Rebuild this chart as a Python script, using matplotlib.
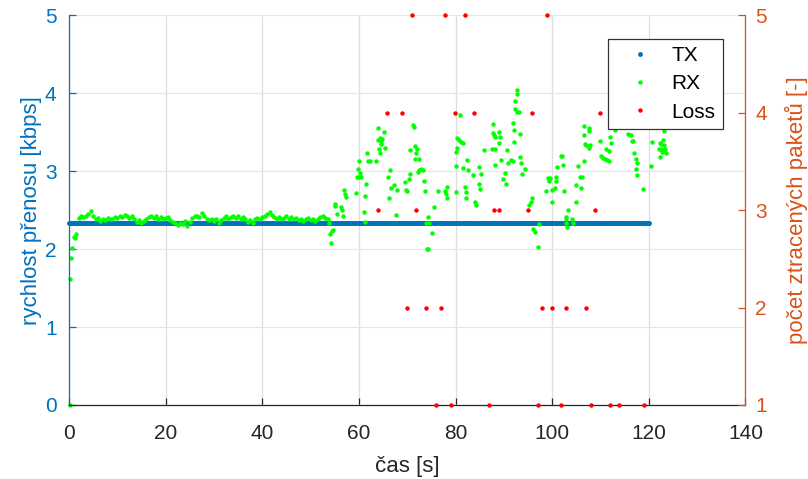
import matplotlib.pyplot as plt
import numpy as np

plt.rcParams['font.family'] = ['Liberation Sans', 'DejaVu Sans']

BLUE = '#0072BD'
ORANGE = '#D95319'
DARK = '#262626'

# TX - konstantni vysilaci rychlost [kbps]
tx_time = np.arange(0, 120.01, 0.25)
tx_rate = 2.34

# RX - nabeh
rx_start_t = [0.17, 0.3, 0.5, 0.7, 1.0, 1.2, 1.55]
rx_start_v = [0.0, 1.62, 1.89, 2.02, 2.15, 2.14, 2.20]

# RX - ustaleny usek 2 .. 53.5 s
rx_flat_t = np.arange(2.0, 53.75, 0.5)
rx_flat_v = [
    2.40, 2.42, 2.41, 2.43, 2.45, 2.49, 2.42, 2.38, 2.40, 2.36,
    2.39, 2.37, 2.40, 2.38, 2.39, 2.41, 2.40, 2.43, 2.41, 2.44,
    2.42, 2.40, 2.43, 2.38, 2.35, 2.37, 2.34, 2.36, 2.38, 2.41,
    2.43, 2.40, 2.42, 2.39, 2.41, 2.38, 2.40, 2.41, 2.37, 2.35,
    2.33, 2.31, 2.34, 2.32, 2.36, 2.30, 2.35, 2.40, 2.42, 2.43,
    2.41, 2.46, 2.42, 2.39, 2.37, 2.39, 2.36, 2.38, 2.34, 2.37,
    2.40, 2.42, 2.39, 2.41, 2.43, 2.40, 2.42, 2.39, 2.41, 2.38,
    2.35, 2.37, 2.34, 2.38, 2.40, 2.39, 2.41, 2.43, 2.45, 2.48,
    2.44, 2.41, 2.39, 2.41, 2.38, 2.40, 2.42, 2.39, 2.41, 2.38,
    2.40, 2.37, 2.39, 2.36, 2.38, 2.40, 2.37, 2.39, 2.36, 2.38,
    2.41, 2.42, 2.40, 2.38,
]

# RX - rozkmitany usek po 54 s
rx_late_t = [
    53.9, 54.1, 54.3, 54.5, 54.6, 55.0, 55.1, 55.4, 56.3, 56.6,
    56.8, 57.0, 57.2, 57.4, 59.5, 59.6, 59.9, 60.0, 60.1, 60.2,
    60.4, 61.0, 61.2, 61.3, 61.5, 61.7, 61.9, 62.2, 63.45, 63.9,
    64.0, 64.2, 64.3, 64.4, 64.5, 64.6, 64.7, 65.2, 65.3, 66.0,
    66.3, 66.4, 66.6, 67.3, 67.6, 67.8, 69.5, 69.7, 70.0, 70.4,
    70.5, 70.6, 71.2, 71.3, 71.6, 71.7, 71.9, 72.1, 72.2, 72.4,
    72.5, 72.9, 73.2, 73.45, 73.6, 73.9, 74.0, 74.2, 74.4, 74.6,
    75.2, 75.6, 76.3, 77.9, 78.1, 78.2, 78.3, 80.0, 80.0, 80.1,
    80.3, 80.4, 80.8, 81.0, 81.2, 81.5, 81.6, 81.9, 82.1, 82.1,
    82.3, 82.5, 83.7, 84.1, 84.2, 84.8, 84.8, 85.0, 85.2, 85.9,
    87.6, 87.8, 87.8, 88.0, 88.1, 88.1, 88.2, 89.0, 89.0, 89.3,
    89.4, 89.9, 90.2, 90.5, 90.75, 90.9, 91.5, 91.8, 91.9, 92.0,
    92.1, 92.3, 92.4, 92.75, 92.8, 92.8, 93.1, 93.3, 93.4, 93.6,
    93.7, 94.3, 95.2, 95.6, 95.9, 96.1, 96.4, 97.1, 97.2, 98.8,
    99.2, 99.4, 99.6, 99.9, 100.0, 100.5, 100.7, 100.8, 101.0, 101.9,
    102.0, 102.3, 102.5, 102.8, 102.8, 102.9, 103.1, 103.2, 104.1, 104.4,
    104.9, 105.0, 105.4, 105.8, 105.9, 106.1, 106.5, 106.5, 106.6, 106.7,
    107.1, 107.4, 107.6, 107.6, 107.7, 107.8, 109.9, 110.1, 110.6, 111.0,
    111.1, 111.4, 111.7, 111.8, 112.0, 112.1, 113.0, 115.7, 116.3, 116.6,
    116.8, 117.0, 117.3, 117.4, 117.6, 117.6, 118.7, 120.5, 120.7, 122.1,
    122.3, 122.4, 122.5, 122.6, 122.8, 122.9, 123.1, 123.1, 123.2, 123.4,
    123.6,
]
rx_late_v = [
    2.34, 2.20, 2.08, 2.23, 2.25, 2.55, 2.58, 2.45, 2.54, 2.50,
    2.43, 2.76, 2.71, 2.67, 2.72, 2.93, 3.03, 2.93, 3.13, 2.98,
    2.93, 2.47, 2.35, 2.68, 2.84, 3.23, 3.13, 3.13, 3.13, 3.55,
    3.40, 3.28, 3.42, 3.23, 3.39, 3.35, 3.41, 3.50, 3.30, 2.93,
    2.66, 3.02, 2.78, 2.82, 2.44, 2.76, 2.86, 2.76, 2.74, 2.90,
    2.96, 3.27, 3.59, 3.57, 3.16, 3.32, 3.23, 3.29, 2.99, 3.16,
    3.02, 3.03, 3.02, 2.87, 2.75, 2.33, 2.00, 2.00, 2.41, 2.34,
    2.21, 2.54, 2.74, 2.75, 2.71, 2.66, 2.80, 2.73, 3.07, 3.25,
    3.30, 3.42, 3.40, 3.72, 3.38, 3.36, 3.04, 2.80, 2.73, 2.66,
    3.14, 3.01, 2.95, 2.60, 2.57, 3.05, 2.84, 2.77, 2.96, 3.27,
    3.29, 3.60, 3.49, 3.46, 3.44, 3.08, 3.29, 3.50, 3.36, 3.44,
    3.14, 2.90, 2.98, 2.84, 3.27, 3.10, 3.14, 3.13, 3.62, 3.53,
    3.37, 3.80, 3.90, 4.04, 3.99, 3.76, 3.76, 3.48, 3.18, 3.10,
    2.97, 3.03, 2.56, 2.60, 2.65, 2.26, 2.22, 2.03, 2.32, 2.75,
    2.91, 2.87, 2.91, 2.76, 2.60, 2.78, 2.87, 2.93, 3.05, 3.19,
    3.20, 3.08, 2.75, 2.41, 2.38, 2.33, 2.29, 2.50, 2.38, 2.33,
    2.61, 2.82, 3.07, 2.93, 2.78, 2.92, 3.13, 3.46, 3.58, 3.35,
    3.33, 3.32, 3.56, 3.30, 3.52, 3.33, 3.39, 3.20, 3.17, 3.15,
    3.29, 3.14, 3.13, 3.26, 3.44, 3.36, 3.53, 3.48, 3.46, 3.39,
    3.39, 3.23, 3.16, 3.03, 3.11, 2.95, 2.77, 3.06, 3.37, 3.28,
    3.36, 3.18, 3.29, 3.35, 3.25, 3.40, 3.52, 3.27, 3.33, 3.28,
    3.23,
]

# Loss - pocet ztracenych paketu
loss_t = [63.9, 65.9, 68.9, 69.9, 71.0, 71.9, 73.9, 75.9, 77.0, 77.9,
          79.0, 79.9, 81.9, 83.9, 87.0, 87.9, 89.0, 95.0, 95.9, 97.0,
          97.9, 99.0, 99.9, 101.9, 102.9, 106.9, 108.0, 108.9, 109.9, 111.9,
          113.9, 118.9]
loss_n = [3, 4, 4, 2, 5, 3, 2, 1, 2, 5,
          1, 4, 5, 4, 1, 3, 3, 3, 4, 1,
          2, 5, 2, 1, 2, 2, 1, 3, 4, 1,
          1, 1]

rx_t = list(rx_start_t) + list(rx_flat_t) + rx_late_t
rx_v = rx_start_v + rx_flat_v + rx_late_v

fig = plt.figure(figsize=(8.08, 4.79), dpi=100)
ax = fig.add_axes([0.0854, 0.1545, 0.8372, 0.8136])
ax2 = ax.twinx()

ms = 3.2
h_tx, = ax.plot(tx_time, np.full_like(tx_time, tx_rate), 'o', color=BLUE,
                ms=3.5, mew=0, clip_on=False, label='TX')
h_rx, = ax.plot(rx_t, rx_v, 'o', color='#00FF00', ms=ms, mew=0,
                clip_on=False, label='RX')
h_loss, = ax2.plot(loss_t, loss_n, 'o', color='#FF0000', ms=ms, mew=0,
                   clip_on=False, label='Loss')

ax.set_xlim(0, 140)
ax.set_ylim(0, 5)
ax2.set_ylim(1, 5)
ax.set_xticks(np.arange(0, 141, 20))
ax.set_yticks(np.arange(0, 6, 1))
ax2.set_yticks(np.arange(1, 6, 1))

ax.grid(True, axis='x', color='#DEDEDE', lw=0.9)
ax.grid(True, axis='y', color='#DCE8F3', lw=0.9)
ax.set_axisbelow(True)

for a in (ax, ax2):
    a.spines['top'].set_visible(False)
ax.spines['right'].set_visible(False)
ax2.spines['left'].set_visible(False)
ax2.spines['bottom'].set_visible(False)
ax.spines['left'].set_color(BLUE)
ax.spines['bottom'].set_color(DARK)
ax2.spines['right'].set_color(ORANGE)
for s in ('left', 'bottom'):
    ax.spines[s].set_linewidth(0.9)
ax2.spines['right'].set_linewidth(0.9)

ax.tick_params(axis='x', direction='in', length=5, width=0.9, colors=DARK,
               labelsize=15, pad=14)
ax.tick_params(axis='y', direction='in', length=5, width=0.9, colors=BLUE,
               labelsize=15, pad=9)
ax2.tick_params(axis='y', direction='in', length=5, width=0.9, colors=ORANGE,
                labelsize=15, pad=7)

ax.set_xlabel('čas [s]', fontsize=16, color=DARK, labelpad=9)
ax.set_ylabel('rychlost přenosu [kbps]', fontsize=16, color=BLUE, labelpad=2)
ax2.set_ylabel('počet ztracených paketů [-]', fontsize=16, color=ORANGE,
               labelpad=13)

leg = ax2.legend(handles=[h_tx, h_rx, h_loss], loc='upper right',
                 bbox_to_anchor=(722.7 / 808, 1 - 39 / 479),
                 bbox_transform=fig.transFigure, borderaxespad=0,
                 fontsize=15, fancybox=False, framealpha=1,
                 edgecolor='#333333', handlelength=2.4, handletextpad=0.3,
                 labelspacing=0.44, borderpad=0.35, markerscale=1.0)
leg.get_frame().set_linewidth(0.9)
leg.set_zorder(10)

fig.savefig('out.png', dpi=100)
